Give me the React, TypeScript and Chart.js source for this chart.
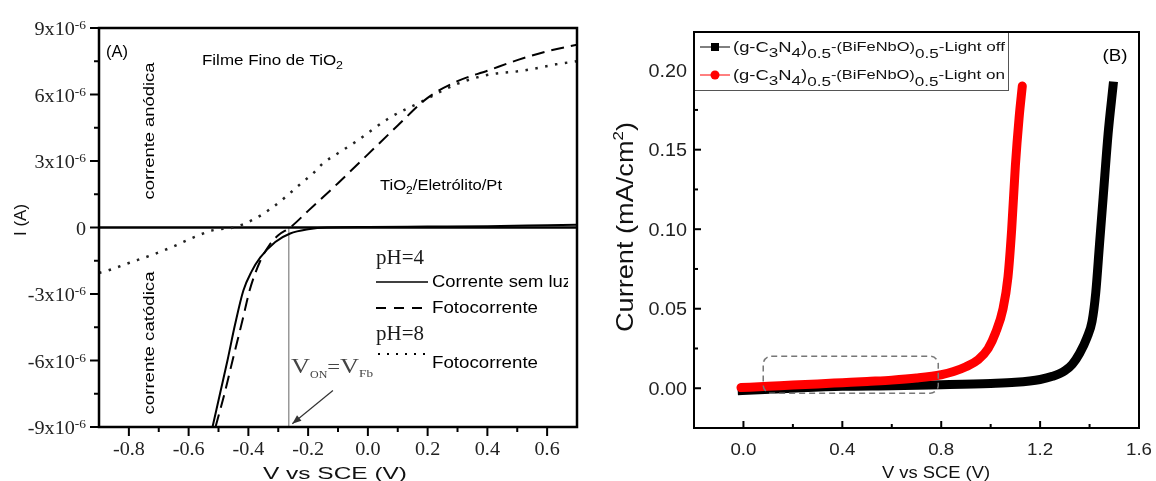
import React, { useEffect, useRef } from "react";
import { Chart, registerables } from "chart.js";
Chart.register(...registerables);

const SANS = '"Liberation Sans", Arial, sans-serif';
const SERIF = '"Liberation Serif", "Times New Roman", serif';

// ---------- Panel A data: V vs SCE (V); current in units of 1e-6 A ----------
const aDarkV = [-0.52, -0.495, -0.47, -0.445, -0.417, -0.39, -0.36, -0.31, -0.26, -0.2, -0.137, 0.0, 0.2, 0.4, 0.6, 0.7];
const aDarkI = [-9.0, -7.5, -6.0, -4.4, -2.85, -2.0, -1.35, -0.65, -0.27, -0.08, 0.0, 0.02, 0.04, 0.06, 0.1, 0.12];
const aPh4V = [-0.51, -0.48, -0.453, -0.42, -0.395, -0.36, -0.33, -0.3, -0.26, -0.2, -0.1, 0.0, 0.1, 0.2, 0.3, 0.4, 0.5, 0.6, 0.7];
const aPh4I = [-9.0, -7.5, -6.0, -4.2, -2.8, -1.5, -0.8, -0.35, 0.0, 0.75, 2.0, 3.3, 4.6, 5.85, 6.6, 7.07, 7.55, 7.95, 8.25];
const aPh8V = [-0.9, -0.87, -0.8, -0.727, -0.65, -0.593, -0.517, -0.45, -0.383, -0.32, -0.27, -0.227, -0.183, -0.15, -0.1, -0.037, 0.073, 0.183, 0.297, 0.407, 0.517, 0.63, 0.7];
const aPh8I = [-2.05, -1.94, -1.6, -1.26, -0.85, -0.5, -0.12, 0.0, 0.36, 0.9, 1.44, 1.95, 2.45, 2.9, 3.35, 3.9, 4.95, 5.7, 6.47, 6.9, 7.07, 7.36, 7.5];
const aZeroV = [-0.9, 0.7];
const aZeroI = [0, 0];
const aVonV = [-0.265, -0.265];
const aVonI = [0, -9];
const aXTicks = [-0.8, -0.6, -0.4, -0.2, 0.0, 0.2, 0.4, 0.6];
const aXLabels = ["-0.8", "-0.6", "-0.4", "-0.2", "0.0", "0.2", "0.4", "0.6"];
const aXMinor = [-0.7, -0.5, -0.3, -0.1, 0.1, 0.3, 0.5];
const aYTicks = [-9, -6, -3, 0, 3, 6, 9];
const aYLabels = ["-9x10", "-6x10", "-3x10", "0", "3x10", "6x10", "9x10"];
const aYMinor = [-7.5, -4.5, -1.5, 1.5, 4.5, 7.5];

// ---------- Panel B data: V vs SCE (V); current (mA/cm2) ----------
const bOffV = [-0.005, 0.2, 0.4, 0.6, 0.8, 1.0, 1.1, 1.2, 1.25, 1.3, 1.33, 1.36, 1.39, 1.41, 1.425, 1.44, 1.455, 1.475, 1.495];
const bOffI = [-0.0015, 0.0, 0.0012, 0.0016, 0.0022, 0.003, 0.0037, 0.0055, 0.0075, 0.011, 0.015, 0.022, 0.032, 0.042, 0.06, 0.09, 0.12, 0.16, 0.19];
const bOnV = [-0.01, 0.1, 0.2, 0.3, 0.4, 0.5, 0.6, 0.7, 0.8, 0.85, 0.9, 0.95, 0.99, 1.02, 1.05, 1.07, 1.085, 1.1, 1.115, 1.128];
const bOnI = [0.0004, 0.0012, 0.002, 0.0027, 0.0035, 0.0043, 0.0051, 0.0064, 0.0085, 0.0105, 0.0135, 0.018, 0.025, 0.035, 0.05, 0.07, 0.1, 0.14, 0.17, 0.19];
const bXTicks = [0.0, 0.4, 0.8, 1.2, 1.6];
const bXLabels = ["0.0", "0.4", "0.8", "1.2", "1.6"];
const bXMinor = [0.2, 0.6, 1.0, 1.4];
const bYTicks = [0.0, 0.05, 0.1, 0.15, 0.2];
const bYLabels = ["0.00", "0.05", "0.10", "0.15", "0.20"];
const bYMinor = [0.025, 0.075, 0.125, 0.175];
const bLegend = ["Light off", "Light on"];

type Part = { t: string; f: string; dy?: number };

function pts(xs: number[], ys: number[]) {
  return xs.map((x, i) => ({ x, y: ys[i] }));
}

function richWidth(ctx: CanvasRenderingContext2D, parts: Part[]) {
  let w = 0;
  for (const p of parts) {
    ctx.font = p.f;
    w += ctx.measureText(p.t).width;
  }
  return w;
}

function drawRich(
  ctx: CanvasRenderingContext2D,
  parts: Part[],
  x: number,
  y: number,
  align: "left" | "center" | "right",
  opts: { w?: number; sx?: number; color?: string } = {}
) {
  const w = richWidth(ctx, parts);
  const sx = opts.w ? opts.w / w : opts.sx || 1;
  const total = w * sx;
  const x0 = align === "left" ? x : align === "center" ? x - total / 2 : x - total;
  ctx.save();
  ctx.translate(x0, y);
  ctx.scale(sx, 1);
  ctx.fillStyle = opts.color || "#000";
  ctx.textAlign = "left";
  ctx.textBaseline = "alphabetic";
  let cx = 0;
  for (const p of parts) {
    ctx.font = p.f;
    ctx.fillText(p.t, cx, p.dy || 0);
    cx += ctx.measureText(p.t).width;
  }
  ctx.restore();
}

function drawRotated(
  ctx: CanvasRenderingContext2D,
  parts: Part[],
  cx: number,
  cy: number,
  base: number,
  opts: { w?: number; color?: string } = {}
) {
  ctx.save();
  ctx.translate(cx, cy);
  ctx.rotate(-Math.PI / 2);
  drawRich(ctx, parts, 0, base, "center", opts);
  ctx.restore();
}

function line(ctx: CanvasRenderingContext2D, x1: number, y1: number, x2: number, y2: number) {
  ctx.beginPath();
  ctx.moveTo(x1, y1);
  ctx.lineTo(x2, y2);
  ctx.stroke();
}

const panelAPlugin = {
  id: "panelA",
  afterDraw(chart: any) {
    const ctx: CanvasRenderingContext2D = chart.ctx;
    const { left, top, right, bottom } = chart.chartArea;
    const xs = chart.scales.x;
    const ys = chart.scales.y;
    ctx.save();
    ctx.strokeStyle = "#000";
    ctx.lineWidth = 2.5;
    ctx.strokeRect(left, top, right - left, bottom - top);
    ctx.lineWidth = 2;
    aYTicks.forEach((v) => { const p = ys.getPixelForValue(v); line(ctx, left - 9, p, left, p); });
    aYMinor.forEach((v) => { const p = ys.getPixelForValue(v); line(ctx, left - 5, p, left, p); });
    aXTicks.forEach((v) => { const p = xs.getPixelForValue(v); line(ctx, p, bottom, p, bottom + 9); });
    aXMinor.forEach((v) => { const p = xs.getPixelForValue(v); line(ctx, p, bottom, p, bottom + 5); });

    // y tick labels
    aYTicks.forEach((v, i) => {
      const p = ys.getPixelForValue(v);
      const parts: Part[] = aYLabels[i] === "0"
        ? [{ t: "0", f: `18px ${SERIF}` }]
        : [{ t: aYLabels[i], f: `18px ${SERIF}` }, { t: "-6", f: `12px ${SERIF}`, dy: -6 }];
      drawRich(ctx, parts, 86, p + 7, "right", { sx: 1.12, color: "#222" });
    });
    // x tick labels
    aXTicks.forEach((v, i) => {
      const p = xs.getPixelForValue(v);
      drawRich(ctx, [{ t: aXLabels[i], f: `18px ${SERIF}` }], p, 455, "center", { sx: 1.12, color: "#222" });
    });
    // axis titles
    drawRich(ctx, [{ t: "V vs SCE (V)", f: `16px ${SANS}` }], 335, 479, "center", { w: 144, color: "#111" });
    drawRotated(ctx, [{ t: "I (A)", f: `17px ${SANS}` }], 20, 220, 6, { color: "#111" });

    // annotations
    drawRich(ctx, [{ t: "(A)", f: `16px ${SANS}` }], 106, 57, "left", { w: 22 });
    drawRich(ctx, [{ t: "Filme Fino de TiO", f: `15px ${SANS}` }, { t: "2", f: `11px ${SANS}`, dy: 4 }], 202, 65, "left", { w: 141 });
    drawRich(ctx, [{ t: "TiO", f: `15px ${SANS}` }, { t: "2", f: `11px ${SANS}`, dy: 4 }, { t: "/Eletrólito/Pt", f: `15px ${SANS}` }], 380, 190, "left", { w: 122 });
    drawRotated(ctx, [{ t: "corrente anódica", f: `15px ${SANS}` }], 149, 131, 5, { w: 137 });
    drawRotated(ctx, [{ t: "corrente catódica", f: `15px ${SANS}` }], 149, 343, 5, { w: 143 });

    // legend
    drawRich(ctx, [{ t: "pH=4", f: `20px ${SERIF}` }], 376, 264, "left", { w: 48, color: "#1a1a1a" });
    drawRich(ctx, [{ t: "pH=8", f: `20px ${SERIF}` }], 376, 340, "left", { w: 48, color: "#1a1a1a" });
    ctx.lineWidth = 1.5;
    ctx.strokeStyle = "#000";
    line(ctx, 376, 282, 428, 282);
    ctx.setLineDash([10, 8]);
    ctx.lineWidth = 2;
    line(ctx, 376, 308, 428, 308);
    ctx.setLineDash([2, 7]);
    ctx.lineWidth = 2;
    line(ctx, 378, 354, 426, 354);
    ctx.setLineDash([]);
    ctx.save();
    ctx.beginPath();
    ctx.rect(left, top, right - left - 9, bottom - top);
    ctx.clip();
    drawRich(ctx, [{ t: "Corrente sem luz", f: `16px ${SANS}` }], 432, 287, "left", { w: 140 });
    ctx.restore();
    drawRich(ctx, [{ t: "Fotocorrente", f: `16px ${SANS}` }], 432, 313, "left", { w: 106 });
    drawRich(ctx, [{ t: "Fotocorrente", f: `16px ${SANS}` }], 432, 368, "left", { w: 106 });

    // V_ON = V_Fb
    drawRich(ctx, [
      { t: "V", f: `22px ${SERIF}` },
      { t: "ON", f: `10px ${SERIF}`, dy: 5 },
      { t: "=", f: `19px ${SERIF}` },
      { t: "V", f: `22px ${SERIF}` },
      { t: "Fb", f: `11px ${SERIF}`, dy: 4 },
    ], 291, 373, "left", { w: 82, color: "#444" });

    // arrow
    const ax1 = xs.getPixelForValue(-0.117), ay1 = ys.getPixelForValue(-7.35);
    const ax2 = xs.getPixelForValue(-0.253), ay2 = ys.getPixelForValue(-8.85);
    ctx.strokeStyle = "#333";
    ctx.fillStyle = "#333";
    ctx.lineWidth = 1.2;
    line(ctx, ax1, ay1, ax2, ay2);
    const ang = Math.atan2(ay2 - ay1, ax2 - ax1);
    ctx.beginPath();
    ctx.moveTo(ax2, ay2);
    ctx.lineTo(ax2 - 9 * Math.cos(ang) + 3.5 * Math.sin(ang), ay2 - 9 * Math.sin(ang) - 3.5 * Math.cos(ang));
    ctx.lineTo(ax2 - 9 * Math.cos(ang) - 3.5 * Math.sin(ang), ay2 - 9 * Math.sin(ang) + 3.5 * Math.cos(ang));
    ctx.closePath();
    ctx.fill();
    ctx.restore();
  },
};

function legendParts(tail: string): Part[] {
  return [
    { t: "(g-C", f: `14px ${SANS}` },
    { t: "3", f: `13px ${SANS}`, dy: 5 },
    { t: "N", f: `14px ${SANS}` },
    { t: "4", f: `13px ${SANS}`, dy: 5 },
    { t: ")", f: `14px ${SANS}` },
    { t: "0.5", f: `13px ${SANS}`, dy: 6 },
    { t: "-(BiFeNbO)", f: `12.5px ${SANS}`, dy: -1 },
    { t: "0.5", f: `13px ${SANS}`, dy: 6 },
    { t: "-" + tail, f: `13px ${SANS}`, dy: -1 },
  ];
}

const panelBPlugin = {
  id: "panelB",
  afterDraw(chart: any) {
    const ctx: CanvasRenderingContext2D = chart.ctx;
    const { left, top, right, bottom } = chart.chartArea;
    const xs = chart.scales.x;
    const ys = chart.scales.y;
    ctx.save();
    // dashed highlight box
    const rx1 = xs.getPixelForValue(0.08), rx2 = xs.getPixelForValue(0.788);
    const ry1 = ys.getPixelForValue(0.0201), ry2 = ys.getPixelForValue(-0.0031);
    ctx.strokeStyle = "#777";
    ctx.lineWidth = 1.5;
    ctx.setLineDash([6, 4]);
    ctx.beginPath();
    (ctx as any).roundRect(rx1, ry1, rx2 - rx1, ry2 - ry1, 8);
    ctx.stroke();
    ctx.setLineDash([]);

    // frame & ticks
    ctx.strokeStyle = "#000";
    ctx.lineWidth = 2;
    ctx.strokeRect(left, top, right - left, bottom - top);
    bXTicks.forEach((v) => { const p = xs.getPixelForValue(v); line(ctx, p, bottom, p, bottom - 7); });
    bXMinor.forEach((v) => { const p = xs.getPixelForValue(v); line(ctx, p, bottom, p, bottom - 4); });
    bYTicks.forEach((v) => { const p = ys.getPixelForValue(v); line(ctx, left, p, left + 7, p); });
    bYMinor.forEach((v) => { const p = ys.getPixelForValue(v); line(ctx, left, p, left + 4, p); });

    bYTicks.forEach((v, i) => {
      const p = ys.getPixelForValue(v);
      drawRich(ctx, [{ t: bYLabels[i], f: `18px ${SANS}` }], 97, p + 6.5, "right", { sx: 1.1, color: "#222" });
    });
    bXTicks.forEach((v, i) => {
      const p = xs.getPixelForValue(v);
      drawRich(ctx, [{ t: bXLabels[i], f: `17px ${SANS}` }], p, 455, "center", { sx: 1.1, color: "#222" });
    });
    drawRich(ctx, [{ t: "V vs SCE (V)", f: `16px ${SANS}` }], 346, 478, "center", { w: 108, color: "#111" });
    drawRotated(ctx, [
      { t: "Current (mA/cm", f: `24px ${SANS}` },
      { t: "2", f: `15px ${SANS}`, dy: -10 },
      { t: ")", f: `24px ${SANS}` },
    ], 34, 227, 8.5, { w: 210, color: "#111" });
    drawRich(ctx, [{ t: "(B)", f: `17px ${SANS}` }], 525, 61, "center", { w: 25 });

    // legend box
    ctx.fillStyle = "#fff";
    ctx.fillRect(104, 32, 314, 58);
    ctx.strokeStyle = "#555";
    ctx.lineWidth = 1;
    ctx.strokeRect(104.5, 32.5, 314, 58);
    ctx.strokeStyle = "#000";
    ctx.lineWidth = 2;
    line(ctx, left, top, right, top);
    line(ctx, left, top, left, top + 60);
    ctx.lineWidth = 1;
    line(ctx, 110, 47, 140, 47);
    ctx.fillStyle = "#000";
    ctx.fillRect(121, 43, 8, 8);
    ctx.strokeStyle = "#ff0000";
    line(ctx, 110, 75, 140, 75);
    ctx.fillStyle = "#ff0000";
    ctx.beginPath();
    ctx.arc(125, 75, 4.5, 0, Math.PI * 2);
    ctx.fill();
    drawRich(ctx, legendParts(bLegend[0]), 143, 52, "left", { w: 272, color: "#111" });
    drawRich(ctx, legendParts(bLegend[1]), 143, 80, "left", { w: 272, color: "#111" });
    ctx.restore();
  },
};

function ChartA() {
  const ref = useRef<HTMLCanvasElement>(null);
  useEffect(() => {
    const chart = new Chart(ref.current!, {
      type: "line",
      data: {
        datasets: [
          { data: pts(aDarkV, aDarkI), borderColor: "#000", borderWidth: 2, cubicInterpolationMode: "monotone" },
          { data: pts(aPh4V, aPh4I), borderColor: "#000", borderWidth: 2, borderDash: [13, 7], cubicInterpolationMode: "monotone" },
          { data: pts(aPh8V, aPh8I), borderColor: "#222", borderWidth: 2.5, borderDash: [2.5, 7.5], cubicInterpolationMode: "monotone" },
          { data: pts(aZeroV, aZeroI), borderColor: "#000", borderWidth: 2.5 },
          { data: pts(aVonV, aVonI), borderColor: "#999", borderWidth: 1 },
        ] as any,
      },
      options: {
        responsive: false,
        animation: false,
        devicePixelRatio: 1,
        events: [],
        layout: { padding: { left: 99, top: 28, right: 13, bottom: 54 } },
        elements: { point: { radius: 0 } },
        plugins: { legend: { display: false }, tooltip: { enabled: false } },
        scales: {
          x: { type: "linear", min: -0.9, max: 0.7, display: false },
          y: { type: "linear", min: -9, max: 9, display: false },
        },
      } as any,
      plugins: [panelAPlugin],
    });
    return () => chart.destroy();
  }, []);
  return <canvas ref={ref} width={590} height={481} style={{ position: "absolute", left: 0, top: 0, width: 590, height: 481 }} />;
}

function ChartB() {
  const ref = useRef<HTMLCanvasElement>(null);
  useEffect(() => {
    const chart = new Chart(ref.current!, {
      type: "line",
      data: {
        datasets: [
          { label: bLegend[1], data: pts(bOnV, bOnI), borderColor: "#ff0000", borderWidth: 9, borderCapStyle: "round", cubicInterpolationMode: "monotone" },
          { label: bLegend[0], data: pts(bOffV, bOffI), borderColor: "#000", borderWidth: 9, borderCapStyle: "square", cubicInterpolationMode: "monotone" },
        ] as any,
      },
      options: {
        responsive: false,
        animation: false,
        devicePixelRatio: 1,
        events: [],
        layout: { padding: { left: 104, top: 32, right: 17, bottom: 53 } },
        elements: { point: { radius: 0 } },
        plugins: { legend: { display: false }, tooltip: { enabled: false } },
        scales: {
          x: { type: "linear", min: -0.2, max: 1.6, display: false },
          y: { type: "linear", min: -0.025, max: 0.224, display: false },
        },
      } as any,
      plugins: [panelBPlugin],
    });
    return () => chart.destroy();
  }, []);
  return <canvas ref={ref} width={566} height={481} style={{ position: "absolute", left: 590, top: 0, width: 566, height: 481 }} />;
}

export default function App() {
  return (
    <div style={{ position: "absolute", left: 0, top: 0, width: 1156, height: 481, background: "#fff", overflow: "hidden" }}>
      <ChartA />
      <ChartB />
    </div>
  );
}
